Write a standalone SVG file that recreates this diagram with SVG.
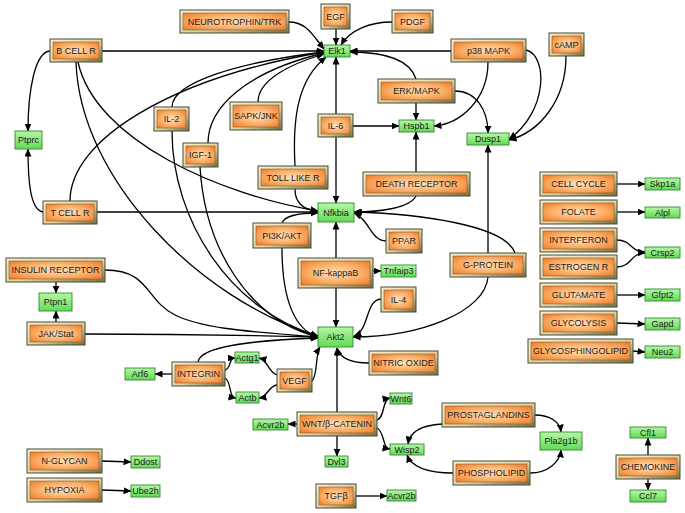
<svg xmlns="http://www.w3.org/2000/svg" width="685" height="513" viewBox="0 0 685 513">
<defs>
<linearGradient id="fr" x1="0" y1="0" x2="1" y2="1">
<stop offset="0" stop-color="#f6f0d6"/><stop offset="0.55" stop-color="#ddd3a4"/><stop offset="1" stop-color="#6f7046"/>
</linearGradient>
<radialGradient id="og" cx="0.5" cy="0.5" r="0.7">
<stop offset="0" stop-color="#ffe2bd"/><stop offset="0.55" stop-color="#fbae66"/><stop offset="1" stop-color="#ee7928"/>
</radialGradient>
<linearGradient id="gg" x1="0" y1="0" x2="0" y2="1">
<stop offset="0" stop-color="#b6f7a6"/><stop offset="1" stop-color="#62d957"/>
</linearGradient>
<marker id="a" markerUnits="userSpaceOnUse" markerWidth="8" markerHeight="7" refX="7.5" refY="3.5" orient="auto">
<path d="M0,0 L8,3.5 L0,7 z" fill="#000"/>
</marker>
<style>
.o .f{fill:url(#fr);stroke:#4b4b30;stroke-width:1}
.o .i{fill:url(#og);stroke:#8a5c2c;stroke-width:0.6}
.g rect{fill:url(#gg);stroke:#2f8a2f;stroke-width:0.9}
text{font-family:"Liberation Sans",Arial,sans-serif;font-size:9px;fill:#1c1c1c;text-anchor:middle}
.c path{fill:none;stroke:#000;stroke-width:1.3;marker-end:url(#a)}
</style>
</defs>
<rect width="685" height="513" fill="#fff"/>

<g class="c" id="connectors">
<!-- into Elk1 -->
<path d="M289,22 C306,22 312,34 324,49"/>
<path d="M336,29 L336,45"/>
<path d="M392,22 C370,22 350,30 341,45"/>
<path d="M102,51 L324,51"/>
<path d="M451,51 L350,51"/>
<path d="M416,79 C410,60 385,52 350,52"/>
<path d="M336,114 L336,57"/>
<path d="M172,107 C172,82 240,62 324,52"/>
<path d="M70,201 C70,140 170,78 324,52"/>
<path d="M208,143 C208,108 245,72 324,53"/>
<path d="M258,102 C258,80 290,64 324,54"/>
<path d="M295,166 C292,112 300,78 326,57"/>
<!-- Ptprc -->
<path d="M50,51 C35,52 28,90 28,131"/>
<path d="M43,212 C30,210 28,180 28,149"/>
<!-- Hspb1 -->
<path d="M353,126 L399,126"/>
<path d="M416,103 L416,120"/>
<path d="M416,172 L416,132"/>
<path d="M488,62 C488,100 460,124 434,126"/>
<!-- Dusp1 -->
<path d="M455,91 C476,91 488,110 488,133"/>
<path d="M526,50 C548,55 548,112 509,139"/>
<path d="M566,56 C566,100 540,132 509,140"/>
<path d="M488,253 L488,145"/>
<!-- Nfkbia -->
<path d="M336,137 L336,203"/>
<path d="M97,212 L318,212"/>
<path d="M78,62 C95,140 220,195 318,211"/>
<path d="M295,189 C295,205 305,210 318,211"/>
<path d="M282,223 C285,215 300,213 318,213"/>
<path d="M416,196 C410,208 380,212 354,212"/>
<path d="M386,241 C370,240 370,220 354,213"/>
<path d="M515,253 C505,225 420,214 354,212"/>
<path d="M336,258 L336,222"/>
<!-- Akt2 -->
<path d="M336,288 L336,327"/>
<path d="M76,62 C80,180 200,300 318,336"/>
<path d="M172,131 C172,220 230,310 318,336"/>
<path d="M200,167 C205,250 250,320 318,337"/>
<path d="M105,270 C150,270 145,300 175,315 C205,330 260,332 318,337"/>
<path d="M85,334 C200,334 280,336 318,337"/>
<path d="M282,248 C282,300 295,330 318,337"/>
<path d="M198,362 C200,345 260,340 318,338"/>
<path d="M312,381 C318,375 315,355 320,347"/>
<path d="M488,277 C485,312 420,337 353,337"/>
<path d="M381,299 C365,300 370,330 354,336"/>
<path d="M369,363 C352,363 340,358 337,348"/>
<path d="M337,412 L337,348"/>
<!-- NF-kappaB -->
<path d="M373,271 L381,271"/>
<!-- Ptpn1 -->
<path d="M56,282 L56,293"/>
<path d="M56,322 L56,311"/>
<!-- Integrin / VEGF -->
<path d="M172,374 L155,374"/>
<path d="M225,370 C232,368 228,358 235,358"/>
<path d="M225,378 C232,382 228,397 236,398"/>
<path d="M277,375 C268,372 268,360 259,358"/>
<path d="M277,385 C268,386 268,397 259,398"/>
<!-- WNT -->
<path d="M297,424 L288,424"/>
<path d="M337,436 L337,456"/>
<path d="M377,420 C385,418 382,399 390,398"/>
<path d="M377,428 C385,432 382,448 390,449"/>
<!-- Prostaglandins / Phospholipid -->
<path d="M442,424 C425,425 410,430 408,444"/>
<path d="M535,415 C550,415 560,422 561,432"/>
<path d="M453,473 C430,473 412,468 407,455"/>
<path d="M530,473 C548,473 560,462 561,450"/>
<!-- Chemokine -->
<path d="M648,455 L648,438"/>
<path d="M648,479 L648,490"/>
<!-- right column -->
<path d="M617,184 L645,184"/>
<path d="M617,212 L645,212"/>
<path d="M617,240 C632,240 630,252 645,252"/>
<path d="M617,267 C632,267 630,253 645,253"/>
<path d="M617,295 L645,295"/>
<path d="M617,323 L645,324"/>
<path d="M633,351 L645,352"/>
<!-- bottom left -->
<path d="M102,461 L131,462"/>
<path d="M102,490 L131,491"/>
<path d="M356,496 L387,496"/>
</g>

<g id="n-neurotrophin" class="o"><rect class="f" x="180" y="10" width="109" height="23"/><rect class="i" x="183" y="13" width="103" height="17"/><text x="234.5" y="24.7">NEUROTROPHIN/TRK</text></g>
<g id="n-egf" class="o"><rect class="f" x="321" y="4" width="29" height="25"/><rect class="i" x="324" y="7" width="23" height="19"/><text x="335.5" y="19.7">EGF</text></g>
<g id="n-pdgf" class="o"><rect class="f" x="392" y="10" width="41" height="23"/><rect class="i" x="395" y="13" width="35" height="17"/><text x="412.5" y="24.7">PDGF</text></g>
<g id="n-bcellr" class="o"><rect class="f" x="50" y="39" width="52" height="23"/><rect class="i" x="53" y="42" width="46" height="17"/><text x="76" y="53.7">B CELL R</text></g>
<g id="n-p38" class="o"><rect class="f" x="451" y="39" width="75" height="23"/><rect class="i" x="454" y="42" width="69" height="17"/><text x="488.5" y="53.7">p38 MAPK</text></g>
<g id="n-camp" class="o"><rect class="f" x="549" y="33" width="35" height="23"/><rect class="i" x="552" y="36" width="29" height="17"/><text x="566.5" y="47.7">cAMP</text></g>
<g id="n-erk" class="o"><rect class="f" x="378" y="79" width="77" height="24"/><rect class="i" x="381" y="82" width="71" height="18"/><text x="416.5" y="94.2">ERK/MAPK</text></g>
<g id="n-sapk" class="o"><rect class="f" x="230" y="102" width="52" height="28"/><rect class="i" x="233" y="105" width="46" height="22"/><text x="256" y="119.2">SAPK/JNK</text></g>
<g id="n-il6" class="o"><rect class="f" x="318" y="114" width="35" height="23"/><rect class="i" x="321" y="117" width="29" height="17"/><text x="335.5" y="128.7">IL-6</text></g>
<g id="n-il2" class="o"><rect class="f" x="154" y="107" width="35" height="24"/><rect class="i" x="157" y="110" width="29" height="18"/><text x="171.5" y="122.2">IL-2</text></g>
<g id="n-igf1" class="o"><rect class="f" x="183" y="143" width="35" height="24"/><rect class="i" x="186" y="146" width="29" height="18"/><text x="200.5" y="158.2">IGF-1</text></g>
<g id="n-tcellr" class="o"><rect class="f" x="43" y="201" width="54" height="23"/><rect class="i" x="46" y="204" width="48" height="17"/><text x="70" y="215.7">T CELL R</text></g>
<g id="n-toll" class="o"><rect class="f" x="258" y="166" width="70" height="23"/><rect class="i" x="261" y="169" width="64" height="17"/><text x="293" y="180.7">TOLL LIKE R</text></g>
<g id="n-death" class="o"><rect class="f" x="363" y="172" width="107" height="24"/><rect class="i" x="366" y="175" width="101" height="18"/><text x="416.5" y="187.2">DEATH RECEPTOR</text></g>
<g id="n-pi3k" class="o"><rect class="f" x="253" y="223" width="58" height="25"/><rect class="i" x="256" y="226" width="52" height="19"/><text x="282" y="238.7">PI3K/AKT</text></g>
<g id="n-ppar" class="o"><rect class="f" x="386" y="229" width="36" height="24"/><rect class="i" x="389" y="232" width="30" height="18"/><text x="404" y="244.2">PPAR</text></g>
<g id="n-cellcycle" class="o"><rect class="f" x="540" y="172" width="77" height="24"/><rect class="i" x="543" y="175" width="71" height="18"/><text x="578.5" y="187.2">CELL CYCLE</text></g>
<g id="n-folate" class="o"><rect class="f" x="540" y="200" width="77" height="24"/><rect class="i" x="543" y="203" width="71" height="18"/><text x="578.5" y="215.2">FOLATE</text></g>
<g id="n-interferon" class="o"><rect class="f" x="540" y="228" width="77" height="24"/><rect class="i" x="543" y="231" width="71" height="18"/><text x="578.5" y="243.2">INTERFERON</text></g>
<g id="n-estrogen" class="o"><rect class="f" x="540" y="255" width="77" height="24"/><rect class="i" x="543" y="258" width="71" height="18"/><text x="578.5" y="270.2">ESTROGEN R</text></g>
<g id="n-glutamate" class="o"><rect class="f" x="540" y="283" width="77" height="24"/><rect class="i" x="543" y="286" width="71" height="18"/><text x="578.5" y="298.2">GLUTAMATE</text></g>
<g id="n-glycolysis" class="o"><rect class="f" x="540" y="311" width="77" height="24"/><rect class="i" x="543" y="314" width="71" height="18"/><text x="578.5" y="326.2">GLYCOLYSIS</text></g>
<g id="n-glycosph" class="o"><rect class="f" x="528" y="339" width="105" height="24"/><rect class="i" x="531" y="342" width="99" height="18"/><text x="580.5" y="354.2">GLYCOSPHINGOLIPID</text></g>
<g id="n-gprotein" class="o"><rect class="f" x="450" y="253" width="76" height="24"/><rect class="i" x="453" y="256" width="70" height="18"/><text x="488" y="268.2">G-PROTEIN</text></g>
<g id="n-insulin" class="o"><rect class="f" x="6" y="258" width="99" height="24"/><rect class="i" x="9" y="261" width="93" height="18"/><text x="55.5" y="273.2">INSULIN  RECEPTOR</text></g>
<g id="n-jak" class="o"><rect class="f" x="27" y="322" width="58" height="23"/><rect class="i" x="30" y="325" width="52" height="17"/><text x="56" y="336.7">JAK/Stat</text></g>
<g id="n-integrin" class="o"><rect class="f" x="172" y="362" width="53" height="24"/><rect class="i" x="175" y="365" width="47" height="18"/><text x="198.5" y="377.2">INTEGRIN</text></g>
<g id="n-nfkappab" class="o"><rect class="f" x="298" y="258" width="75" height="30"/><rect class="i" x="301" y="261" width="69" height="24"/><text x="335.5" y="276.2">NF-kappaB</text></g>
<g id="n-il4" class="o"><rect class="f" x="381" y="287" width="35" height="25"/><rect class="i" x="384" y="290" width="29" height="19"/><text x="398.5" y="302.7">IL-4</text></g>
<g id="n-nitric" class="o"><rect class="f" x="369" y="351" width="69" height="24"/><rect class="i" x="372" y="354" width="63" height="18"/><text x="403.5" y="366.2">NITRIC OXIDE</text></g>
<g id="n-vegf" class="o"><rect class="f" x="277" y="369" width="35" height="23"/><rect class="i" x="280" y="372" width="29" height="17"/><text x="294.5" y="383.7">VEGF</text></g>
<g id="n-wnt" class="o"><rect class="f" x="297" y="412" width="80" height="24"/><rect class="i" x="300" y="415" width="74" height="18"/><text x="337" y="427.2">WNT/β-CATENIN</text></g>
<g id="n-tgfb" class="o"><rect class="f" x="316" y="484" width="40" height="24"/><rect class="i" x="319" y="487" width="34" height="18"/><text x="336" y="499.2">TGFβ</text></g>
<g id="n-prostaglandins" class="o"><rect class="f" x="442" y="403" width="93" height="24"/><rect class="i" x="445" y="406" width="87" height="18"/><text x="488.5" y="418.2">PROSTAGLANDINS</text></g>
<g id="n-phospholipid" class="o"><rect class="f" x="453" y="461" width="77" height="24"/><rect class="i" x="456" y="464" width="71" height="18"/><text x="491.5" y="476.2">PHOSPHOLIPID</text></g>
<g id="n-chemokine" class="o"><rect class="f" x="616" y="455" width="64" height="24"/><rect class="i" x="619" y="458" width="58" height="18"/><text x="648" y="470.2">CHEMOKINE</text></g>
<g id="n-nglycan" class="o"><rect class="f" x="27" y="449" width="75" height="24"/><rect class="i" x="30" y="452" width="69" height="18"/><text x="64.5" y="464.2">N-GLYCAN</text></g>
<g id="n-hypoxia" class="o"><rect class="f" x="27" y="478" width="75" height="24"/><rect class="i" x="30" y="481" width="69" height="18"/><text x="64.5" y="493.2">HYPOXIA</text></g>

<g id="g-elk1" class="g"><rect x="324" y="45" width="26" height="12"/><text x="337" y="54.2">Elk1</text></g>
<g id="g-hspb1" class="g"><rect x="399" y="120" width="35" height="12"/><text x="416.5" y="129.2">Hspb1</text></g>
<g id="g-dusp1" class="g"><rect x="467" y="133" width="42" height="12"/><text x="488" y="142.2">Dusp1</text></g>
<g id="g-ptprc" class="g"><rect x="15" y="131" width="27" height="18"/><text x="28.5" y="143.2">Ptprc</text></g>
<g id="g-nfkbia" class="g"><rect x="318" y="203" width="36" height="19"/><text x="336" y="215.7">Nfkbia</text></g>
<g id="g-skp1a" class="g"><rect x="645" y="178" width="35" height="12"/><text x="662.5" y="187.2">Skp1a</text></g>
<g id="g-alpl" class="g"><rect x="645" y="207" width="35" height="11"/><text x="662.5" y="215.7">Alpl</text></g>
<g id="g-crsp2" class="g"><rect x="645" y="247" width="35" height="11"/><text x="662.5" y="255.7">Crsp2</text></g>
<g id="g-gfpt2" class="g"><rect x="645" y="289" width="35" height="12"/><text x="662.5" y="298.2">Gfpt2</text></g>
<g id="g-gapd" class="g"><rect x="645" y="318" width="35" height="12"/><text x="662.5" y="327.2">Gapd</text></g>
<g id="g-neu2" class="g"><rect x="645" y="346" width="35" height="12"/><text x="662.5" y="355.2">Neu2</text></g>
<g id="g-ptpn1" class="g"><rect x="39" y="293" width="33" height="18"/><text x="55.5" y="305.2">Ptpn1</text></g>
<g id="g-arf6" class="g"><rect x="125" y="368" width="30" height="12"/><text x="140" y="377.2">Arf6</text></g>
<g id="g-tnfaip3" class="g"><rect x="381" y="265" width="35" height="12"/><text x="398.5" y="274.2">Tnfaip3</text></g>
<g id="g-akt2" class="g"><rect x="318" y="327" width="35" height="20"/><text x="335.5" y="340.2">Akt2</text></g>
<g id="g-actg1" class="g"><rect x="235" y="352" width="24" height="11"/><text x="247" y="360.7">Actg1</text></g>
<g id="g-actb" class="g"><rect x="236" y="392" width="23" height="11"/><text x="247.5" y="400.7">Actb</text></g>
<g id="g-acvr2b-1" class="g"><rect x="253" y="419" width="35" height="11"/><text x="270.5" y="427.7">Acvr2b</text></g>
<g id="g-wnt6" class="g"><rect x="390" y="393" width="22" height="11"/><text x="401" y="401.7">Wnt6</text></g>
<g id="g-wisp2" class="g"><rect x="390" y="444" width="34" height="11"/><text x="407" y="452.7">Wisp2</text></g>
<g id="g-dvl3" class="g"><rect x="325" y="456" width="23" height="11"/><text x="336.5" y="464.7">Dvl3</text></g>
<g id="g-acvr2b-2" class="g"><rect x="387" y="490" width="29" height="11"/><text x="401.5" y="498.7">Acvr2b</text></g>
<g id="g-pla2g1b" class="g"><rect x="540" y="432" width="42" height="18"/><text x="561" y="444.2">Pla2g1b</text></g>
<g id="g-cfl1" class="g"><rect x="630" y="427" width="36" height="11"/><text x="648" y="435.7">Cfl1</text></g>
<g id="g-ccl7" class="g"><rect x="630" y="490" width="36" height="12"/><text x="648" y="499.2">Ccl7</text></g>
<g id="g-ddost" class="g"><rect x="131" y="456" width="29" height="12"/><text x="145.5" y="465.2">Ddost</text></g>
<g id="g-ube2h" class="g"><rect x="131" y="485" width="29" height="12"/><text x="145.5" y="494.2">Ube2h</text></g>
</svg>
